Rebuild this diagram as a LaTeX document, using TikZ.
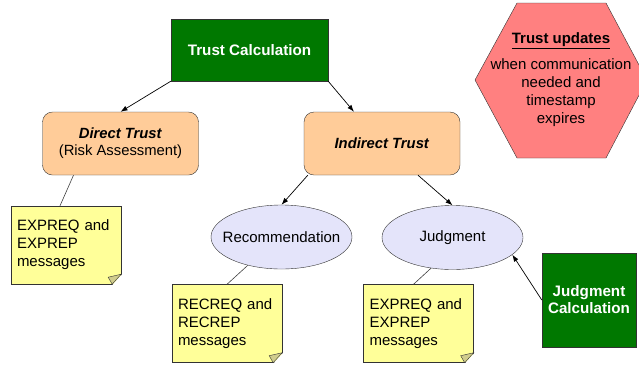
\documentclass[tikz,border=0pt]{standalone}
\usepackage{fontspec}
\setmainfont{Liberation Sans}
\usetikzlibrary{shapes.geometric}
\usetikzlibrary{arrows.meta}
\definecolor{calcgreen}{RGB}{0,120,0}
\definecolor{trustpeach}{RGB}{255,204,153}
\definecolor{partblue}{RGB}{228,228,250}
\definecolor{noteyellow}{RGB}{255,255,153}
\definecolor{foldyellow}{RGB}{208,204,140}
\definecolor{hexred}{RGB}{255,128,128}
\definecolor{edgegray}{RGB}{51,51,51}
\tikzset{
  % green boxes for the calculations
  calc box/.style={draw=edgegray, fill=calcgreen, text=white, align=center,
    inner sep=0pt, font=\fontsize{15.2}{17}\selectfont\bfseries},
  % rounded boxes for the two kinds of trust
  trust box/.style={draw=edgegray, fill=trustpeach, rounded corners=10pt,
    minimum width=156pt, minimum height=63pt, align=center, inner sep=0pt,
    font=\fontsize{14.8}{17}\selectfont},
  % ellipses below the indirect trust
  part ellipse/.style={ellipse, draw=edgegray, fill=partblue, minimum width=141pt,
    minimum height=64pt, inner xsep=-9pt, inner ysep=0pt,
    font=\fontsize{15}{17}\selectfont},
  % sticky note, the folded corner is added afterwards
  msg note/.style={draw=edgegray, fill=noteyellow, minimum width=110pt,
    minimum height=78pt, text width=98pt, inner xsep=6pt, inner ysep=0pt,
    align=left, font=\fontsize{15}{18}\selectfont},
  % arrows and plain ties
  link/.style={draw=black, line width=0.7pt, -{Latex[length=7pt,width=5pt]}},
  tie/.style={draw=black!75, line width=0.6pt},
}

\begin{document}
\begin{tikzpicture}[x=1pt,y=-1pt]
\useasboundingbox (0,0) rectangle (639,368);
\draw [edgegray,fill=hexred] (475,80) -- (517,3) -- (606,3) -- (647,80)
  -- (606,158) -- (517,158) -- cycle;
\node[align=center,font=\fontsize{15}{18}\selectfont] (upd) at (561,80)
  {\underline{\textbf{Trust updates}}\\[8pt]when communication\\needed and\\timestamp\\expires};
\node[calc box,minimum width=157pt,minimum height=62pt] (tc) at (249.5,50) {Trust Calculation};
\node[trust box] (dt) at (120.5,143.5) {\textbf{\textit{Direct Trust}}\\(Risk Assessment)};
\node[trust box] (it) at (382,143.5) {\textbf{\textit{Indirect Trust}}};
\node[part ellipse] (rec) at (281.5,237) {Recommendation};
\node[part ellipse] (jud) at (452.5,237.5) {Judgment};
\node[calc box,minimum width=94pt,minimum height=94pt] (jc) at (589,300) {Judgment\\Calculation};
\node[msg note] (expd) at (66,245) {EXPREQ and\\EXPREP\\messages};
\node[msg note] (recm) at (227,323.5) {RECREQ and\\RECREP\\messages};
\node[msg note] (expj) at (418.5,323.5) {EXPREQ and\\EXPREP\\messages};
% folded corners of the notes
\foreach \n in {expd,recm,expj}{
  \fill [white] ([xshift=1pt,yshift=10pt]\n.south east)
    -- ([xshift=1pt,yshift=-1pt]\n.south east)
    -- ([xshift=-9pt,yshift=-1pt]\n.south east) -- cycle;
  \draw [edgegray,fill=foldyellow] ([xshift=-9pt]\n.south east)
    -- ([yshift=10pt]\n.south east)
    -- ([xshift=-13pt,yshift=7pt]\n.south east) -- cycle;
}
\draw [link] (tc.south west) -- (dt.north);
\draw [link] (tc.south east) -- ([xshift=-28pt]it.north);
\draw [link] ([xshift=4pt]it.south west) -- (rec.north);
\draw [link] ([xshift=36pt]it.south) -- (jud.north);
\draw [link] (jc.west) -- (jud.344);
\draw [tie] ([xshift=-47pt]dt.south) -- ([xshift=-6pt]expd.north);
\draw [tie] (rec.220) -- (recm.north);
\draw [tie] (jud.235) -- ([xshift=-5pt]expj.north);
\end{tikzpicture}
\end{document}
